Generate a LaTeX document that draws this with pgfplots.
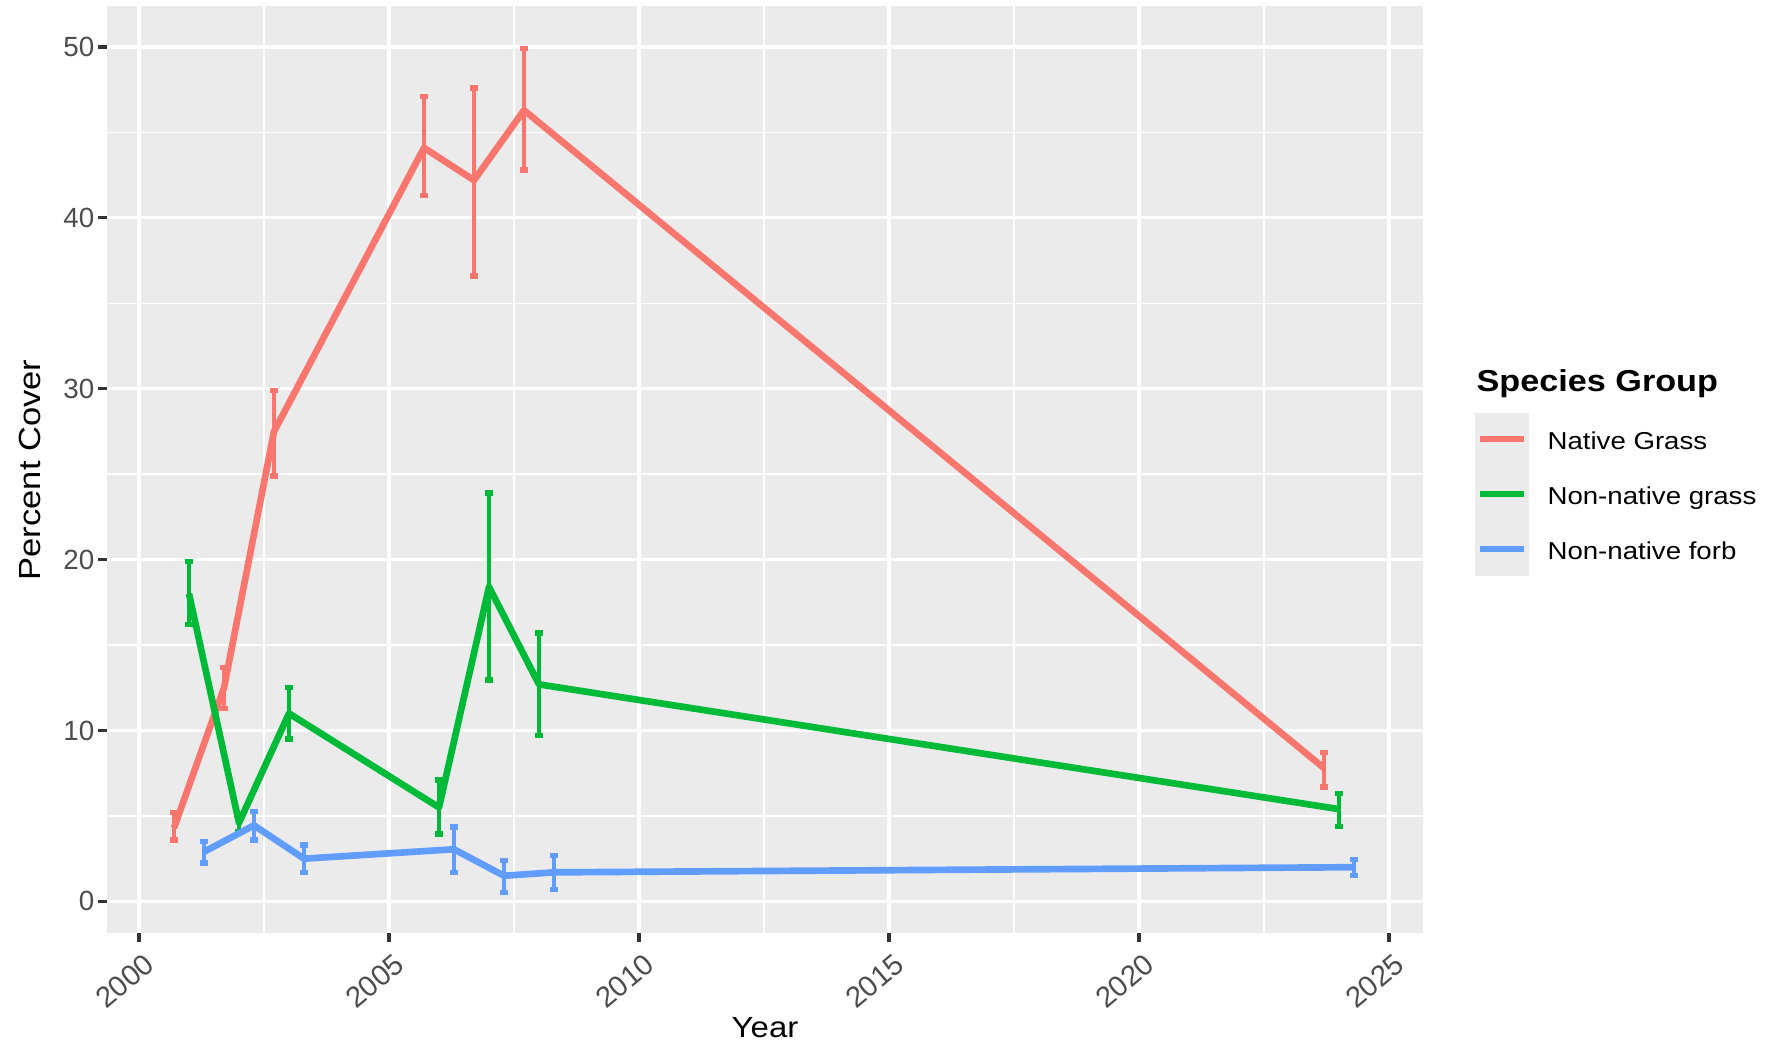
\documentclass[border=0pt]{standalone}
\usepackage{pgfplots}
\usepackage{pgfplotstable}
\pgfplotsset{compat=1.18}
\usepackage{fontspec}
\setmainfont{Liberation Sans}[FakeStretch=1.13]
\newfontfamily\tickfont{Liberation Sans}
\definecolor{ggbg}{HTML}{EBEBEB}
\definecolor{ggred}{HTML}{F8766D}
\definecolor{gggreen}{HTML}{00BA38}
\definecolor{ggblue}{HTML}{619CFF}
\definecolor{ticktext}{HTML}{4D4D4D}
\definecolor{tickcol}{HTML}{333333}
\pgfplotstableread{
x y lo hi
2000.7 4.3 3.6 5.2
2001.7 12.5 11.3 13.7
2002.7 27.5 24.9 29.9
2005.7 44.1 41.3 47.1
2006.7 42.2 36.6 47.6
2007.7 46.3 42.8 49.9
2023.7 7.8 6.7 8.7
}\nativegrass
\pgfplotstableread{
x y lo hi
2001.0 18.0 16.2 19.9
2002.0 4.6 4.1 5.1
2003.0 11.0 9.5 12.5
2006.0 5.5 3.95 7.1
2007.0 18.4 12.95 23.9
2008.0 12.7 9.7 15.7
2024.0 5.4 4.4 6.3
}\nonnativegrass
\pgfplotstableread{
x y lo hi
2001.3 2.9 2.25 3.5
2002.3 4.45 3.6 5.25
2003.3 2.5 1.7 3.3
2006.3 3.05 1.7 4.35
2007.3 1.5 0.5 2.4
2008.3 1.7 0.7 2.7
2024.3 2.0 1.5 2.45
}\nonnativeforb
\begin{document}
\begin{tikzpicture}
\begin{scope}[x=0.36pt,y=0.36pt]
\useasboundingbox (0,0) rectangle (1768,1043);
\end{scope}
\begin{axis}[
  at={(38.52pt,39.6pt)}, anchor=south west,
  scale only axis,
  width=473.76pt, height=333.72pt,
  xmin=1999.36, xmax=2025.68,
  ymin=-1.85, ymax=52.4,
  axis background/.style={fill=ggbg},
  axis line style={draw=none},
  xtick={2000,2005,...,2025},
  ytick={0,10,...,50},
  minor xtick={2002.5,2007.5,...,2022.5},
  minor ytick={5,15,...,45},
  grid=both,
  major grid style={white, line width=1.1pt},
  minor grid style={white, line width=0.55pt},
  tick align=outside,
  xtick pos=left, ytick pos=left,
  major tick length=3.4pt,
  minor tick length=0pt,
  tick style={tickcol, line width=1.1pt},
  /pgf/number format/assume math mode=true,
  /pgf/number format/1000 sep={},
  ticklabel style={font=\tickfont\fontsize{10}{12}\selectfont, text=ticktext},
  xticklabel style={font=\tickfont\fontsize{10.5}{12}\selectfont, rotate=40, anchor=north east, inner sep=1pt, yshift=-2.5pt},
  yticklabel style={inner sep=1pt},
  error bars/y dir=both,
  error bars/y explicit,
]
\addplot[ggred, line width=2.4pt, line join=round,
  error bars/.cd, error bar style={line width=1.7pt, ggred},
  error mark options={rotate=90, line width=1.9pt, mark size=1.6pt, ggred}]
  table[x=x, y=y, y error plus expr=\thisrow{hi}-\thisrow{y}, y error minus expr=\thisrow{y}-\thisrow{lo}] {\nativegrass};
\addplot[gggreen, line width=2.4pt, line join=round,
  error bars/.cd, error bar style={line width=1.7pt, gggreen},
  error mark options={rotate=90, line width=1.9pt, mark size=1.6pt, gggreen}]
  table[x=x, y=y, y error plus expr=\thisrow{hi}-\thisrow{y}, y error minus expr=\thisrow{y}-\thisrow{lo}] {\nonnativegrass};
\addplot[ggblue, line width=2.4pt, line join=round,
  error bars/.cd, error bar style={line width=1.7pt, ggblue},
  error mark options={rotate=90, line width=1.9pt, mark size=1.6pt, ggblue}]
  table[x=x, y=y, y error plus expr=\thisrow{hi}-\thisrow{y}, y error minus expr=\thisrow{y}-\thisrow{lo}] {\nonnativeforb};
\end{axis}
\begin{scope}[x=0.36pt,y=0.36pt]
% axis titles
\node[anchor=base, inner sep=0pt, font=\fontsize{10.5}{13}\selectfont] at (765,6) {Year};
\node[anchor=base, inner sep=0pt, rotate=90, font=\fontsize{11}{13}\selectfont] at (40.7,573) {Percent Cover};
% legend
\node[anchor=base west, font=\bfseries\fontsize{10.9}{13}\selectfont, inner sep=0pt] at (1476,651.3) {Species Group};
\fill[ggbg] (1475,467) rectangle (1529,630);
\draw[ggred, line width=2.3pt] (1480,603.7) -- (1524,603.7);
\draw[gggreen, line width=2.3pt] (1480,549) -- (1524,549);
\draw[ggblue, line width=2.3pt] (1480,494) -- (1524,494);
\node[anchor=base west, font=\fontsize{8.8}{10}\selectfont, inner sep=0pt] at (1547,593) {Native Grass};
\node[anchor=base west, font=\fontsize{8.8}{10}\selectfont, inner sep=0pt] at (1547,538.7) {Non-native grass};
\node[anchor=base west, font=\fontsize{8.8}{10}\selectfont, inner sep=0pt] at (1547,483.7) {Non-native forb};
\end{scope}
\end{tikzpicture}
\end{document}
